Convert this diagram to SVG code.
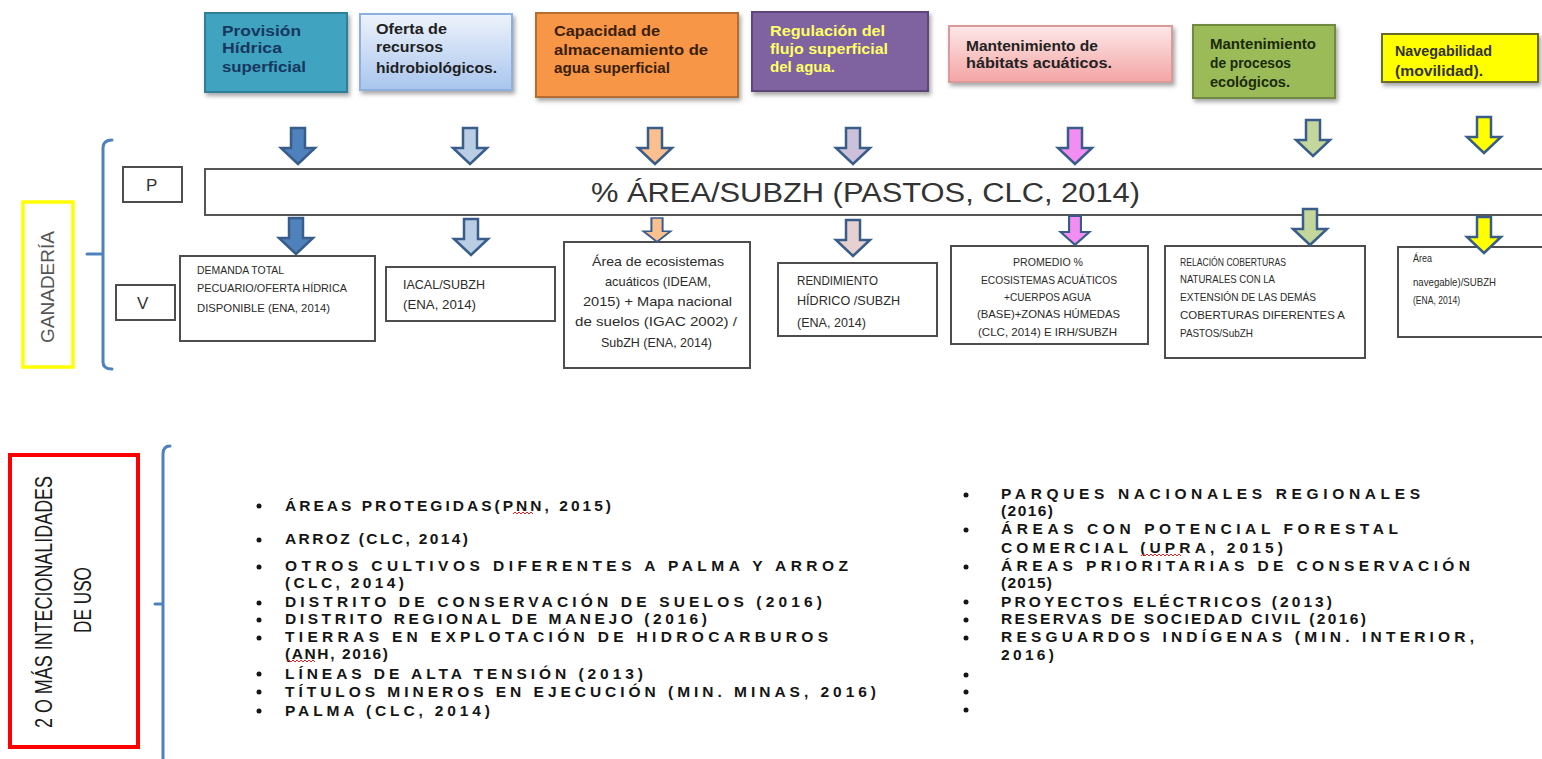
<svg xmlns="http://www.w3.org/2000/svg" xmlns:xlink="http://www.w3.org/1999/xlink" width="1542" height="759" viewBox="0 0 1542 759">
<defs>
<linearGradient id="gBlue" x1="0" y1="0" x2="0" y2="1"><stop offset="0" stop-color="#eef3fc"/><stop offset="1" stop-color="#a9c5ee"/></linearGradient>
<linearGradient id="gPink" x1="0" y1="0" x2="0" y2="1"><stop offset="0" stop-color="#fde8e8"/><stop offset="1" stop-color="#f4a4a4"/></linearGradient>
<filter id="sh" x="-10%" y="-10%" width="125%" height="130%"><feDropShadow dx="2" dy="3" stdDeviation="2" flood-color="#000" flood-opacity="0.35"/></filter>
<path id="arr" d="M-7,0 H7 V20 H17 L0,36 L-17,20 H-7 Z"/>
<style>
.tb{font-family:"Liberation Sans",Arial,sans-serif;font-weight:bold;font-size:14px}
.vb{font-family:"Liberation Sans",Arial,sans-serif;font-size:13px;fill:#2b2b2b}
.vs{font-family:"Liberation Sans",Arial,sans-serif;font-size:10.5px;fill:#2b2b2b}
.box{fill:#fff;stroke:#4d4d4d;stroke-width:2}
.arw{stroke:#385d8a;stroke-width:2.5;stroke-linejoin:miter}
.brk{fill:none;stroke:#4f81bd;stroke-width:3;stroke-linecap:round}
.bl{font-family:"Liberation Sans",Arial,sans-serif;font-weight:bold;font-size:15.5px;fill:#151515}
.dot{fill:#151515}
.sq{fill:none;stroke:#e02020;stroke-width:1}
</style>
</defs>
<rect width="1542" height="759" fill="#fff"/>

<g id="top-provision">
<rect x="205" y="13" width="142" height="79" fill="#40a3c0" stroke="#2e7f97" stroke-width="2" filter="url(#sh)"/>
<text class="tb" fill="#17375e" x="222" y="36" textLength="79" lengthAdjust="spacingAndGlyphs">Provisión</text>
<text class="tb" fill="#17375e" x="222" y="53" textLength="60" lengthAdjust="spacingAndGlyphs">Hídrica</text>
<text class="tb" fill="#17375e" x="222" y="72" textLength="84" lengthAdjust="spacingAndGlyphs">superficial</text>
</g>
<g id="top-oferta">
<rect x="360" y="14" width="152" height="76" fill="url(#gBlue)" stroke="#8eb0de" stroke-width="2" filter="url(#sh)"/>
<text class="tb" fill="#1f1f1f" x="376" y="34" textLength="71" lengthAdjust="spacingAndGlyphs">Oferta de</text>
<text class="tb" fill="#1f1f1f" x="376" y="52" textLength="67" lengthAdjust="spacingAndGlyphs">recursos</text>
<text class="tb" fill="#1f1f1f" x="376" y="73" textLength="121" lengthAdjust="spacingAndGlyphs">hidrobiológicos.</text>
</g>
<g id="top-capacidad">
<rect x="536" y="13" width="202" height="84" fill="#f79646" stroke="#b66d31" stroke-width="2" filter="url(#sh)"/>
<text class="tb" fill="#3b1e08" x="554" y="36" textLength="106" lengthAdjust="spacingAndGlyphs">Capacidad de</text>
<text class="tb" fill="#3b1e08" x="554" y="55" textLength="154" lengthAdjust="spacingAndGlyphs">almacenamiento de</text>
<text class="tb" fill="#3b1e08" x="554" y="73" textLength="116" lengthAdjust="spacingAndGlyphs">agua superficial</text>
</g>
<g id="top-regulacion">
<rect x="752" y="12" width="176" height="79" fill="#7f63a1" stroke="#5c4776" stroke-width="2" filter="url(#sh)"/>
<text class="tb" fill="#ffff66" x="770" y="36" textLength="115" lengthAdjust="spacingAndGlyphs">Regulación del</text>
<text class="tb" fill="#ffff66" x="770" y="54" textLength="118" lengthAdjust="spacingAndGlyphs">flujo superficial</text>
<text class="tb" fill="#ffff66" x="770" y="72" textLength="65" lengthAdjust="spacingAndGlyphs">del agua.</text>
</g>
<g id="top-habitats">
<rect x="949" y="26" width="223" height="56" fill="url(#gPink)" stroke="#d99a9a" stroke-width="2" filter="url(#sh)"/>
<text class="tb" fill="#222" x="966" y="51" textLength="132" lengthAdjust="spacingAndGlyphs">Mantenimiento de</text>
<text class="tb" fill="#222" x="966" y="68" textLength="146" lengthAdjust="spacingAndGlyphs">hábitats acuáticos.</text>
</g>
<g id="top-procesos">
<rect x="1193" y="25" width="142" height="73" fill="#9bbb59" stroke="#71893f" stroke-width="2" filter="url(#sh)"/>
<text class="tb" fill="#1a2a0a" x="1210" y="49" textLength="106" lengthAdjust="spacingAndGlyphs">Mantenimiento</text>
<text class="tb" fill="#1a2a0a" x="1210" y="68" textLength="81" lengthAdjust="spacingAndGlyphs">de procesos</text>
<text class="tb" fill="#1a2a0a" x="1210" y="87" textLength="80" lengthAdjust="spacingAndGlyphs">ecológicos.</text>
</g>
<g id="top-navegabilidad">
<rect x="1382" y="34" width="156" height="48" fill="#ffff00" stroke="#6b6b2a" stroke-width="2" filter="url(#sh)"/>
<text class="tb" fill="#333" x="1395" y="56" textLength="97" lengthAdjust="spacingAndGlyphs">Navegabilidad</text>
<text class="tb" fill="#333" x="1395" y="76" textLength="88" lengthAdjust="spacingAndGlyphs">(movilidad).</text>
</g>

<g id="ganaderia">
<rect x="23" y="202" width="50" height="165" fill="none" stroke="#ffff00" stroke-width="3.5"/>
<text transform="translate(54,287) rotate(-90)" text-anchor="middle" font-family="Liberation Sans,Arial,sans-serif" font-size="18" fill="#555" textLength="112" lengthAdjust="spacingAndGlyphs">GANADERÍA</text>
</g>
<g id="p-label">
<rect class="box" x="123" y="167" width="59" height="35"/>
<text x="146" y="191" font-family="Liberation Sans,Arial,sans-serif" font-size="17" fill="#333">P</text>
</g>
<g id="v-label">
<rect class="box" x="116" y="285" width="59" height="35"/>
<text x="137" y="309" font-family="Liberation Sans,Arial,sans-serif" font-size="17" fill="#333">V</text>
</g>
<g id="p-bar">
<rect x="205" y="169" width="1345" height="46" fill="#fff" stroke="#555" stroke-width="2"/>
<text x="591" y="202" font-family="Liberation Sans,Arial,sans-serif" font-size="27" fill="#333" textLength="549" lengthAdjust="spacingAndGlyphs">% ÁREA/SUBZH (PASTOS, CLC, 2014)</text>
</g>

<g id="v-demanda">
<rect class="box" x="180" y="256" width="195" height="85"/>
<text class="vs" x="197" y="274" textLength="87" lengthAdjust="spacingAndGlyphs">DEMANDA TOTAL</text>
<text class="vs" x="197" y="292" textLength="150" lengthAdjust="spacingAndGlyphs">PECUARIO/OFERTA   HÍDRICA</text>
<text class="vs" x="197" y="312" textLength="133" lengthAdjust="spacingAndGlyphs">DISPONIBLE  (ENA, 2014)</text>
</g>
<g id="v-iacal">
<rect class="box" x="386" y="267" width="169" height="54"/>
<text class="vb" x="403" y="289" textLength="82" lengthAdjust="spacingAndGlyphs">IACAL/SUBZH</text>
<text class="vb" x="403" y="309" textLength="73" lengthAdjust="spacingAndGlyphs">(ENA, 2014)</text>
</g>
<g id="v-area">
<rect class="box" x="564" y="242" width="186" height="126"/>
<text class="vb" x="592" y="266" textLength="132" lengthAdjust="spacingAndGlyphs">Área de ecosistemas</text>
<text class="vb" x="605" y="286" textLength="106" lengthAdjust="spacingAndGlyphs">acuáticos (IDEAM,</text>
<text class="vb" x="583" y="306" textLength="149" lengthAdjust="spacingAndGlyphs">2015) + Mapa nacional</text>
<text class="vb" x="575" y="326" textLength="162" lengthAdjust="spacingAndGlyphs">de suelos (IGAC 2002) /</text>
<text class="vb" x="601" y="347" textLength="111" lengthAdjust="spacingAndGlyphs">SubZH (ENA, 2014)</text>
</g>
<g id="v-rendimiento">
<rect class="box" x="778" y="263" width="159" height="73"/>
<text class="vb" x="797" y="285" textLength="81" lengthAdjust="spacingAndGlyphs">RENDIMIENTO</text>
<text class="vb" x="797" y="305" textLength="103" lengthAdjust="spacingAndGlyphs">HÍDRICO /SUBZH</text>
<text class="vb" x="797" y="327" textLength="69" lengthAdjust="spacingAndGlyphs">(ENA, 2014)</text>
</g>
<g id="v-promedio">
<rect class="box" x="951" y="246" width="197" height="98"/>
<text class="vs" x="1013" y="266" textLength="70" lengthAdjust="spacingAndGlyphs">PROMEDIO %</text>
<text class="vs" x="981" y="284" textLength="136" lengthAdjust="spacingAndGlyphs">ECOSISTEMAS  ACUÁTICOS</text>
<text class="vs" x="1004" y="301" textLength="87" lengthAdjust="spacingAndGlyphs">+CUERPOS AGUA</text>
<text class="vs" x="977" y="318" textLength="143" lengthAdjust="spacingAndGlyphs">(BASE)+ZONAS  HÚMEDAS</text>
<text class="vs" x="978" y="336" textLength="139" lengthAdjust="spacingAndGlyphs">(CLC, 2014) E IRH/SUBZH</text>
</g>
<g id="v-relacion">
<rect class="box" x="1165" y="246" width="200" height="112"/>
<text class="vs" x="1180" y="266" textLength="106" lengthAdjust="spacingAndGlyphs">RELACIÓN  COBERTURAS</text>
<text class="vs" x="1180" y="283" textLength="95" lengthAdjust="spacingAndGlyphs">NATURALES  CON LA</text>
<text class="vs" x="1180" y="301" textLength="136" lengthAdjust="spacingAndGlyphs">EXTENSIÓN   DE LAS DEMÁS</text>
<text class="vs" x="1180" y="319" textLength="165" lengthAdjust="spacingAndGlyphs">COBERTURAS  DIFERENTES  A</text>
<text class="vs" x="1180" y="337" textLength="73" lengthAdjust="spacingAndGlyphs">PASTOS/SubZH</text>
</g>
<g id="v-navegable">
<rect class="box" x="1398" y="247" width="150" height="90"/>
<text class="vs" x="1413" y="262" font-size="9" textLength="19" lengthAdjust="spacingAndGlyphs">Área</text>
<text class="vs" x="1413" y="286" font-size="9" textLength="83" lengthAdjust="spacingAndGlyphs">navegable)/SUBZH</text>
<text class="vs" x="1413" y="304" font-size="9" textLength="47" lengthAdjust="spacingAndGlyphs">(ENA, 2014)</text>
</g>

<g id="connectors">
<use xlink:href="#arr" x="298" y="128" fill="#4f81bd" class="arw"/>
<use xlink:href="#arr" x="470" y="128" fill="#b9cde5" class="arw"/>
<use xlink:href="#arr" x="655" y="128" fill="#fac090" class="arw"/>
<use xlink:href="#arr" x="853" y="128" fill="#ccc0da" class="arw"/>
<use xlink:href="#arr" x="1075" y="128" fill="#f28ef2" class="arw"/>
<use xlink:href="#arr" x="1313" y="120" fill="#c3d69b" class="arw"/>
<use xlink:href="#arr" x="1484" y="117" fill="#ffff00" class="arw"/>
<use xlink:href="#arr" x="296" y="218" fill="#4f81bd" class="arw"/>
<use xlink:href="#arr" x="471" y="219" fill="#b9cde5" class="arw"/>
<g transform="translate(657,218) scale(0.8,0.66)"><use xlink:href="#arr" fill="#fac090" class="arw"/></g>
<use xlink:href="#arr" x="853" y="220" fill="#e6d0d0" class="arw"/>
<g transform="translate(1075,216) scale(0.85,0.8)"><use xlink:href="#arr" fill="#f28ef2" class="arw"/></g>
<use xlink:href="#arr" x="1310" y="209" fill="#c3d69b" class="arw"/>
<use xlink:href="#arr" x="1484" y="217" fill="#ffff00" class="arw"/>
<path class="brk" d="M112,140 Q103,140 103,148 V362 Q103,369 112,369 M87,254 H103"/>
<path class="brk" d="M170,446 Q163,446 163,454 V759 M155,604 H163"/>
</g>

<g id="usos">
<rect x="10" y="455" width="128" height="292" fill="#fff" stroke="#ff0000" stroke-width="4"/>
<text transform="translate(52,602) rotate(-90)" text-anchor="middle" font-family="Liberation Sans,Arial,sans-serif" font-size="24" fill="#1a1a1a" textLength="252" lengthAdjust="spacingAndGlyphs">2 O MÁS INTECIONALIDADES</text>
<text transform="translate(91,600) rotate(-90)" text-anchor="middle" font-family="Liberation Sans,Arial,sans-serif" font-size="24" fill="#1a1a1a" textLength="66" lengthAdjust="spacingAndGlyphs">DE USO</text>
</g>

<g id="lista-izquierda">
<circle class="dot" cx="259" cy="506" r="2.5"/>
<circle class="dot" cx="259" cy="540" r="2.5"/>
<circle class="dot" cx="259" cy="567" r="2.5"/>
<circle class="dot" cx="259" cy="603" r="2.5"/>
<circle class="dot" cx="259" cy="620" r="2.5"/>
<circle class="dot" cx="259" cy="638" r="2.5"/>
<circle class="dot" cx="259" cy="674" r="2.5"/>
<circle class="dot" cx="259" cy="692" r="2.5"/>
<circle class="dot" cx="259" cy="711" r="2.5"/>
<text class="bl" x="285" y="511" textLength="326">ÁREAS PROTEGIDAS(PNN,  2015)</text>
<text class="bl" x="285" y="544" textLength="183">ARROZ  (CLC, 2014)</text>
<text class="bl" x="285" y="571" textLength="563">OTROS CULTIVOS DIFERENTES A PALMA Y ARROZ</text>
<text class="bl" x="285" y="588" textLength="119">(CLC, 2014)</text>
<text class="bl" x="285" y="607" textLength="537">DISTRITO DE CONSERVACIÓN  DE SUELOS (2016)</text>
<text class="bl" x="285" y="624" textLength="422">DISTRITO REGIONAL  DE MANEJO  (2016)</text>
<text class="bl" x="285" y="642" textLength="543">TIERRAS EN EXPLOTACIÓN  DE HIDROCARBUROS</text>
<text class="bl" x="285" y="659" textLength="103">(ANH,  2016)</text>
<text class="bl" x="285" y="679" textLength="358">LÍNEAS DE ALTA TENSIÓN (2013)</text>
<text class="bl" x="285" y="697" textLength="591">TÍTULOS MINEROS EN EJECUCIÓN  (MIN. MINAS, 2016)</text>
<text class="bl" x="285" y="716" textLength="205">PALMA (CLC, 2014)</text>
<path class="sq" d="M513,514 l2,-2 l2,2 l2,-2 l2,2 l2,-2 l2,2 l2,-2 l2,2 l2,-2 l2,2"/>
<path class="sq" d="M287,662 l2,-2 l2,2 l2,-2 l2,2 l2,-2 l2,2 l2,-2 l2,2 l2,-2 l2,2 l2,-2 l2,2 l2,-2 l2,2"/>
</g>

<g id="lista-derecha">
<circle class="dot" cx="966" cy="495" r="2.5"/>
<circle class="dot" cx="966" cy="530" r="2.5"/>
<circle class="dot" cx="966" cy="567" r="2.5"/>
<circle class="dot" cx="966" cy="602" r="2.5"/>
<circle class="dot" cx="966" cy="620" r="2.5"/>
<circle class="dot" cx="966" cy="638" r="2.5"/>
<circle class="dot" cx="966" cy="675" r="2.5"/>
<circle class="dot" cx="966" cy="692" r="2.5"/>
<circle class="dot" cx="966" cy="710" r="2.5"/>
<text class="bl" x="1001" y="499" textLength="419">PARQUES NACIONALES REGIONALES</text>
<text class="bl" x="1001" y="516" textLength="52">(2016)</text>
<text class="bl" x="1001" y="534" textLength="397">ÁREAS CON POTENCIAL FORESTAL</text>
<text class="bl" x="1001" y="553" textLength="282">COMERCIAL (UPRA, 2015)</text>
<text class="bl" x="1001" y="571" textLength="469">ÁREAS PRIORITARIAS DE CONSERVACIÓN</text>
<text class="bl" x="1001" y="588" textLength="51">(2015)</text>
<text class="bl" x="1001" y="607" textLength="331">PROYECTOS ELÉCTRICOS (2013)</text>
<text class="bl" x="1001" y="624" textLength="365">RESERVAS DE SOCIEDAD CIVIL (2016)</text>
<text class="bl" x="1001" y="642" textLength="473">RESGUARDOS INDÍGENAS (MIN. INTERIOR,</text>
<text class="bl" x="1001" y="660" textLength="53">2016)</text>
<path class="sq" d="M1141,556 l2,-2 l2,2 l2,-2 l2,2 l2,-2 l2,2 l2,-2 l2,2 l2,-2 l2,2 l2,-2 l2,2 l2,-2 l2,2 l2,-2 l2,2 l2,-2 l2,2 l2,-2 l2,2"/>
</g>
</svg>
